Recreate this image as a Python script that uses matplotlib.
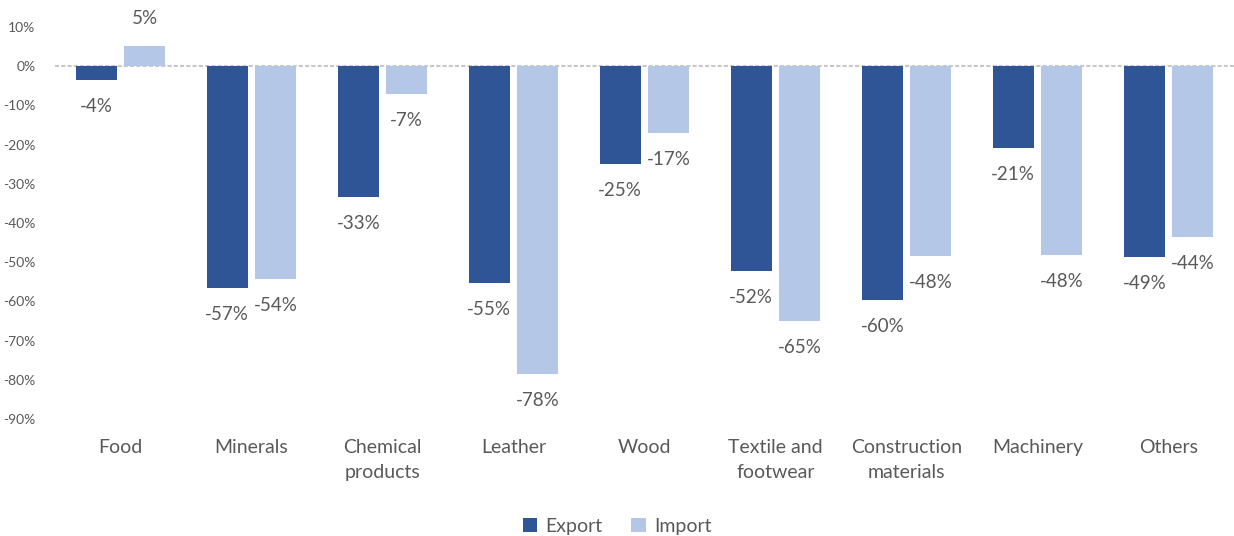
import numpy as np
from matplotlib import pyplot as plt
from matplotlib.ticker import FuncFormatter

plt.rcParams['font.family'] = ['Lato', 'DejaVu Sans']

# categories and values (percent change)
categories = ['Food', 'Minerals', 'Chemical\nproducts', 'Leather', 'Wood',
              'Textile and\nfootwear', 'Construction\nmaterials', 'Machinery', 'Others']
export = [-3.6, -56.6, -33.4, -55.4, -25.0, -52.3, -59.6, -20.9, -48.7]
imports = [5.1, -54.3, -7.1, -78.4, -17.1, -65.0, -48.4, -48.2, -43.6]
yticks = np.arange(-90, 11, 10)

c_exp = '#2F5597'
c_imp = '#B4C7E7'
txt = '#595959'

fig = plt.figure(figsize=(12.34, 5.36), dpi=100)
ax = fig.add_axes([0.0446, 0.218, 0.9554, 0.732])

x = np.arange(len(categories))
w = 0.31
off = 0.185
b1 = ax.bar(x - off, export, w, color=c_exp, label='Export', zorder=2)
b2 = ax.bar(x + off, imports, w, color=c_imp, label='Import', zorder=2)

# value labels
for bars, vals in ((b1, export), (b2, imports)):
    for b, v in zip(bars, vals):
        cx = b.get_x() + b.get_width() / 2
        dy = 20 if v >= 0 else -19
        ax.annotate('%d%%' % round(v), (cx, v), xytext=(0, dy), textcoords='offset points',
                    ha='center', va='center', fontsize=13.5, color=txt)

ax.axhline(0, color='#C8C8C8', lw=1.5, ls=(0, (2, 1)), zorder=1)

ax.set_xlim(-0.5, len(categories) - 0.5)
ax.set_ylim(-90, 10)
ax.set_yticks(yticks)
ax.yaxis.set_major_formatter(FuncFormatter(lambda v, p: '%d%%' % v))
ax.set_xticks(x)
ax.set_xticklabels(categories, fontsize=14, color=txt, linespacing=1.6)
ax.tick_params(axis='y', length=0, labelsize=10, labelcolor=txt, pad=14)
ax.tick_params(axis='x', length=0, pad=14)
ax.xaxis.set_ticks_position('none')
for s in ax.spines.values():
    s.set_visible(False)

fig.legend(loc='lower center', bbox_to_anchor=(0.5, -0.03), ncol=2, frameon=False,
           fontsize=14, labelcolor=txt, handlelength=0.75, handleheight=0.75,
           handletextpad=0.4, columnspacing=1.5)

fig.savefig('out.png', dpi=100)
